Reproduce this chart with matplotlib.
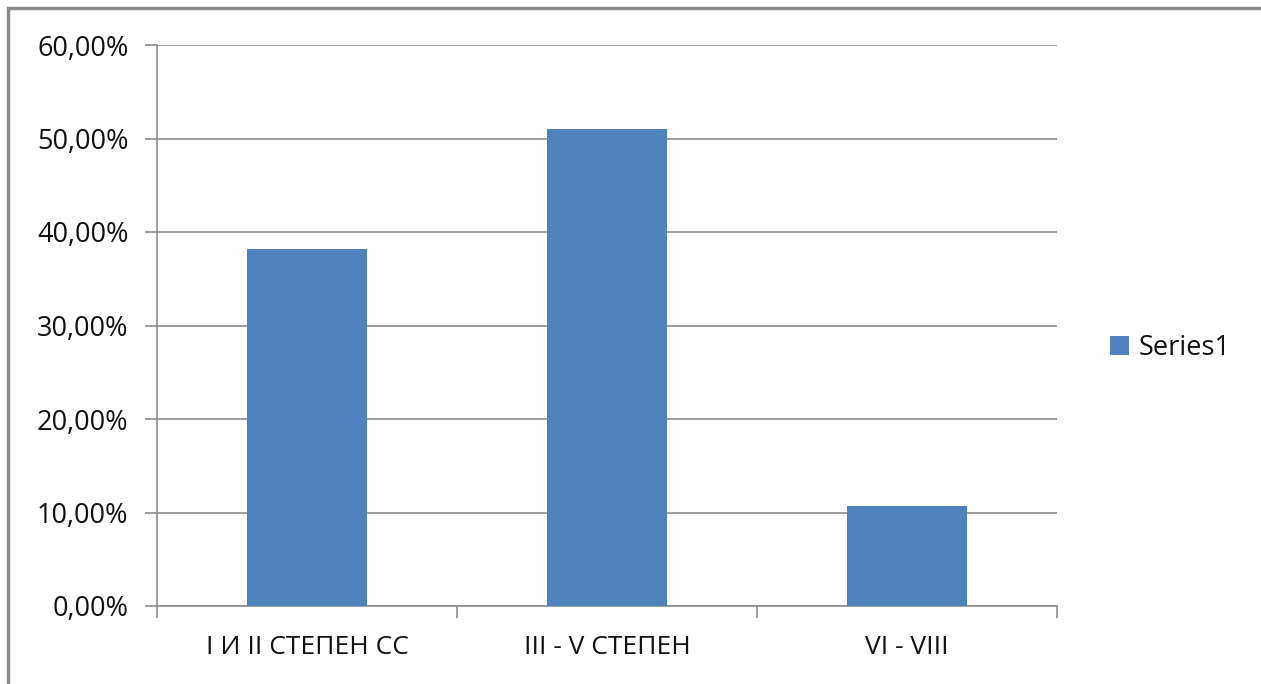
import matplotlib.pyplot as plt
from matplotlib.patches import Rectangle
from matplotlib.ticker import FuncFormatter

categories = ["I И II СТЕПЕН СС", "III - V СТЕПЕН", "VI - VIII"]
values = [38.2, 51.0, 10.7]
series_name = "Series1"

plt.rcParams["font.family"] = ["Open Sans", "DejaVu Sans"]
text_color = "#111111"
grid_color = "#8c8c8c"
bar_color = "#4f81bd"

W, H = 1261, 684
fig = plt.figure(figsize=(W / 100, H / 100), dpi=100)
ax = fig.add_axes([157 / W, 1 - 606 / H, 900 / W, 561 / H])

# outer chart frame (runs off the right and bottom of the picture)
fig.patches.append(Rectangle((8 / W, -0.1), 1.2, 1 - 8 / H + 0.1, transform=fig.transFigure,
                             fill=False, edgecolor="#8a8a8a", linewidth=2.5))

x = range(len(categories))
ax.bar(x, values, width=0.4, color=bar_color, label=series_name, zorder=3)

ax.set_xlim(-0.5, len(categories) - 0.5)
ax.set_ylim(0, 60)
ax.set_yticks(range(0, 61, 10))
ax.yaxis.set_major_formatter(FuncFormatter(lambda v, p: f"{v:.2f}%".replace(".", ",")))
ax.grid(axis="y", color=grid_color, linewidth=1.2, zorder=0)

ax.set_xticks([i - 0.5 for i in range(len(categories) + 1)], minor=False)
ax.set_xticklabels([])
ax.set_xticks(list(x), minor=True)
ax.set_xticklabels(categories, minor=True)
ax.tick_params(axis="x", which="major", length=8.5, color=grid_color, width=1.2)
ax.tick_params(axis="x", which="minor", length=0, pad=21, labelsize=19, labelcolor=text_color)
ax.tick_params(axis="y", length=8.5, color=grid_color, width=1.2, pad=12,
               labelsize=19.5, labelcolor=text_color)

for side in ["top", "right"]:
    ax.spines[side].set_visible(False)
for side in ["left", "bottom"]:
    ax.spines[side].set_color(grid_color)
    ax.spines[side].set_linewidth(1.2)

ax.legend(loc="center left", bbox_to_anchor=(1.032, 0.46), frameon=False, fontsize=19.5,
          handlelength=0.7, handleheight=0.7, handletextpad=0.35, labelcolor=text_color)

fig.savefig("out.png", dpi=100)
